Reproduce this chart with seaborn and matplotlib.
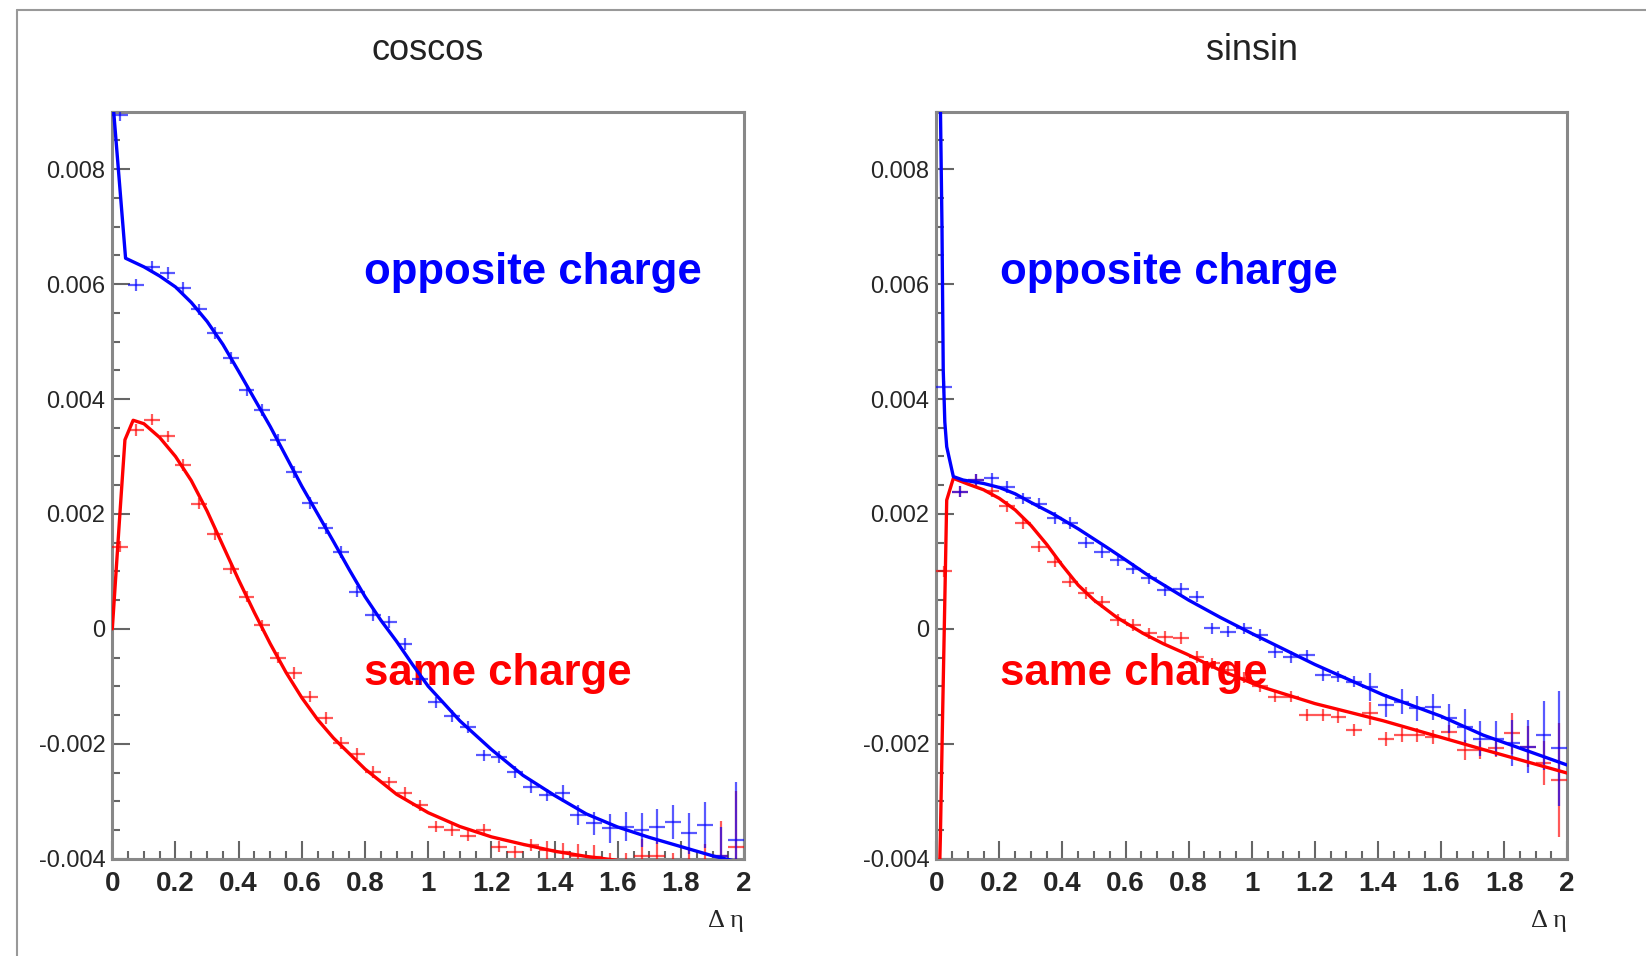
import numpy as np
import pandas as pd
import matplotlib
matplotlib.use("Agg")
import matplotlib.pyplot as plt
import seaborn as sns
from matplotlib.ticker import MultipleLocator, FuncFormatter
from matplotlib.lines import Line2D

# ---------------- data ----------------
bin_centers = [0.025 + 0.05 * i for i in range(40)]
bin_halfwidth = 0.025

# coscos panel (values in units of 1e-3)
cos_opp_y = [8.94, 5.98, 6.30, 6.19, 5.94, 5.56, 5.15, 4.71, 4.15, 3.81,
             3.29, 2.73, 2.19, 1.75, 1.34, 0.65, 0.24, 0.12, -0.26, -0.87,
             -1.28, -1.52, -1.71, -2.20, -2.23, -2.49, -2.75, -2.89, -2.86, -3.24,
             -3.38, -3.47, -3.44, -3.50, -3.44, -3.36, -3.56, -3.41, -3.95, -3.67]
cos_opp_err = [0.10] * 28 + [0.15, 0.18, 0.20, 0.25, 0.25, 0.30, 0.30, 0.30, 0.35, 0.40, 0.50, 1.00]
cos_same_y = [1.43, 3.46, 3.64, 3.35, 2.85, 2.18, 1.65, 1.05, 0.56, 0.06,
              -0.50, -0.77, -1.18, -1.55, -1.99, -2.17, -2.49, -2.67, -2.86, -3.07,
              -3.44, -3.50, -3.60, -3.50, -3.79, -3.88, -3.76, -3.85, -3.88, -3.95,
              -3.97, -4.10, -4.15, -3.95, -3.95, -4.20, -4.20, -4.15, -3.95, -3.79]
cos_same_err = [0.10] * 27 + [0.15, 0.15, 0.20, 0.20, 0.20, 0.25, 0.30, 0.30, 0.30, 0.35, 0.40, 0.60, 0.96]

cos_opp_fit_x = [0.0, 0.042, 0.1, 0.15, 0.2, 0.25, 0.3, 0.35, 0.4, 0.45, 0.5, 0.55, 0.6, 0.65,
                 0.7, 0.75, 0.8, 0.85, 0.9, 0.95, 1.0, 1.1, 1.2, 1.3, 1.4, 1.5, 1.6, 1.7,
                 1.8, 1.9, 2.0]
cos_opp_fit_y = [9.3, 6.45, 6.3, 6.14, 5.95, 5.68, 5.35, 4.95, 4.48, 4.0, 3.52, 3.0, 2.48, 2.0,
                 1.52, 1.03, 0.56, 0.15, -0.22, -0.62, -1.0, -1.6, -2.1, -2.55, -2.9, -3.22,
                 -3.45, -3.63, -3.79, -3.95, -4.08]
cos_same_fit_x = [0.0, 0.024, 0.04, 0.066, 0.1, 0.15, 0.2, 0.25, 0.3, 0.35, 0.4, 0.45, 0.5,
                  0.55, 0.6, 0.65, 0.7, 0.8, 0.9, 1.0, 1.1, 1.2, 1.3, 1.4, 1.5, 1.6, 1.8, 2.0]
cos_same_fit_y = [0.0, 2.0, 3.29, 3.63, 3.57, 3.33, 3.0, 2.58, 2.05, 1.45, 0.85, 0.28, -0.26,
                  -0.76, -1.2, -1.58, -1.9, -2.44, -2.88, -3.2, -3.44, -3.62, -3.75, -3.87,
                  -3.96, -4.03, -4.15, -4.25]

# sinsin panel
sin_opp_y = [4.21, 2.39, 2.59, 2.62, 2.47, 2.27, 2.18, 1.93, 1.84, 1.50,
             1.34, 1.20, 1.05, 0.88, 0.68, 0.70, 0.56, 0.01, -0.05, 0.01,
             -0.11, -0.40, -0.49, -0.46, -0.80, -0.83, -0.92, -1.01, -1.33, -1.27,
             -1.38, -1.36, -1.56, -1.70, -1.91, -1.91, -1.99, -2.05, -1.85, -2.08]
sin_opp_err = [0.10] * 27 + [0.25, 0.20, 0.22, 0.22, 0.22, 0.25, 0.30, 0.30, 0.30, 0.40, 0.46, 0.60, 1.00]
sin_same_y = [1.00, 2.39, 2.59, 2.40, 2.13, 1.84, 1.43, 1.17, 0.82, 0.62,
              0.47, 0.15, 0.07, -0.08, -0.14, -0.16, -0.49, -0.60, -0.72, -0.85,
              -1.00, -1.18, -1.18, -1.50, -1.50, -1.53, -1.76, -1.47, -1.91, -1.85,
              -1.85, -1.88, -1.79, -2.11, -2.11, -2.08, -1.82, -2.05, -2.34, -2.63]
sin_same_err = [0.10] * 27 + [0.20, 0.12, 0.12, 0.12, 0.12, 0.12, 0.18, 0.15, 0.15, 0.35, 0.36, 0.38, 1.00]

sin_opp_fit_x = [0.013, 0.018, 0.022, 0.027, 0.033, 0.054, 0.085, 0.15, 0.2, 0.25, 0.3, 0.37,
                 0.45, 0.54, 0.6, 0.68, 0.8, 0.9, 1.0, 1.2, 1.417, 1.6, 1.734, 2.0]
sin_opp_fit_y = [9.1, 7.0, 4.5, 3.6, 3.17, 2.65, 2.59, 2.53, 2.46, 2.35, 2.2, 2.0,
                 1.74, 1.42, 1.2, 0.9, 0.5, 0.2, -0.08, -0.62, -1.15, -1.52, -1.85, -2.37]
sin_same_fit_x = [0.010, 0.013, 0.02, 0.027, 0.033, 0.054, 0.1, 0.15, 0.2, 0.25, 0.3, 0.35,
                  0.4, 0.45, 0.5, 0.572, 0.656, 0.72, 0.794, 0.9, 1.026, 1.2, 1.417, 1.734, 2.0]
sin_same_fit_y = [-4.3, -3.6, -1.5, 0.5, 2.24, 2.62, 2.52, 2.42, 2.27, 2.07, 1.8, 1.47,
                  1.1, 0.76, 0.5, 0.2, -0.08, -0.26, -0.44, -0.72, -1.0, -1.3, -1.6, -2.1, -2.51]

panel_titles = ["coscos", "sinsin"]
x_ticks = [0, 0.2, 0.4, 0.6, 0.8, 1.0, 1.2, 1.4, 1.6, 1.8, 2.0]
y_ticks = [-0.004, -0.002, 0.0, 0.002, 0.004, 0.006, 0.008]
SCALE = 1e-3

BLUE = "#0000ff"
RED = "#ff0000"

# ---------------- figure ----------------
sns.set_style("ticks")
plt.rcParams["font.family"] = ["Liberation Sans", "DejaVu Sans"]
plt.rcParams["axes.unicode_minus"] = False

W, H = 1646, 956
fig = plt.figure(figsize=(W / 100, H / 100), dpi=100)
fig.patch.set_facecolor("white")

ax_rects = [
    [112.3 / W, (H - 858.7) / H, 631.9 / W, 747.0 / H],
    [936.3 / W, (H - 858.7) / H, 630.9 / W, 747.0 / H],
]

panels = [
    dict(opp=(cos_opp_y, cos_opp_err), same=(cos_same_y, cos_same_err),
         opp_fit=(cos_opp_fit_x, cos_opp_fit_y), same_fit=(cos_same_fit_x, cos_same_fit_y),
         text_x=0.797),
    dict(opp=(sin_opp_y, sin_opp_err), same=(sin_same_y, sin_same_err),
         opp_fit=(sin_opp_fit_x, sin_opp_fit_y), same_fit=(sin_same_fit_x, sin_same_fit_y),
         text_x=0.203),
]

title_x = [428 / W, 1252 / W]

for i, (rect, p) in enumerate(zip(ax_rects, panels)):
    ax = fig.add_axes(rect)
    ax.set_facecolor("white")

    # data points with error bars
    for (vals, errs), col in [(p["same"], RED), (p["opp"], BLUE)]:
        ax.errorbar(bin_centers, np.array(vals) * SCALE,
                    xerr=bin_halfwidth, yerr=np.array(errs) * SCALE,
                    fmt="none", ecolor=col, elinewidth=1.6, alpha=0.65,
                    capsize=0, zorder=3)

    # fit curves
    for (fx, fy), col in [(p["same_fit"], RED), (p["opp_fit"], BLUE)]:
        df = pd.DataFrame({"x": fx, "y": np.array(fy) * SCALE})
        sns.lineplot(data=df, x="x", y="y", ax=ax, color=col, linewidth=2.4,
                     sort=False, estimator=None, zorder=5)

    ax.text(p["text_x"], 0.00621, "opposite charge", color=BLUE, fontsize=31.5,
            fontweight="bold", ha="left", va="center", zorder=2)
    ax.text(p["text_x"], -0.00078, "same charge", color=RED, fontsize=31.5,
            fontweight="bold", ha="left", va="center", zorder=2)

    ax.set_xlim(0, 2)
    ax.set_ylim(-0.004, 0.009)
    ax.set_xlabel("")
    ax.set_ylabel("")
    ax.set_xticks(x_ticks)
    ax.set_yticks(y_ticks)
    ax.xaxis.set_minor_locator(MultipleLocator(0.05))
    ax.yaxis.set_minor_locator(MultipleLocator(0.0005))
    ax.xaxis.set_major_formatter(FuncFormatter(lambda v, pos: f"{v:g}"))
    ax.yaxis.set_major_formatter(
        FuncFormatter(lambda v, pos: "0" if abs(v) < 1e-12 else f"{v:.3f}"))
    ax.tick_params(axis="both", which="both", direction="in", color="#666666",
                   top=False, right=False)
    ax.tick_params(axis="both", which="major", length=13, width=1.5)
    ax.tick_params(axis="both", which="minor", length=6, width=1.5)
    ax.tick_params(axis="x", which="major", pad=9, labelsize=20)
    ax.tick_params(axis="y", which="major", pad=5, labelsize=17)
    for lab in ax.get_xticklabels():
        lab.set_fontweight("bold")
    for s in ax.spines.values():
        s.set_color("#888888")
        s.set_linewidth(2.2)
        s.set_visible(True)

    ax.text(1.0, -0.083, "Δ η", transform=ax.transAxes, ha="right", va="center",
            fontsize=19, family=["Liberation Serif", "DejaVu Serif"])

    fig.text(title_x[i], 1 - 50 / H, panel_titles[i], ha="center", va="center",
             fontsize=26, color="#222222")

# window frame lines (top and left)
fig.add_artist(Line2D([17 / W, 1.0], [1 - 10 / H, 1 - 10 / H], transform=fig.transFigure,
                      color="#999999", linewidth=1.5))
fig.add_artist(Line2D([17 / W, 17 / W], [0.0, 1 - 10 / H], transform=fig.transFigure,
                      color="#999999", linewidth=1.5))

fig.savefig("out.png", dpi=100, facecolor="white")
